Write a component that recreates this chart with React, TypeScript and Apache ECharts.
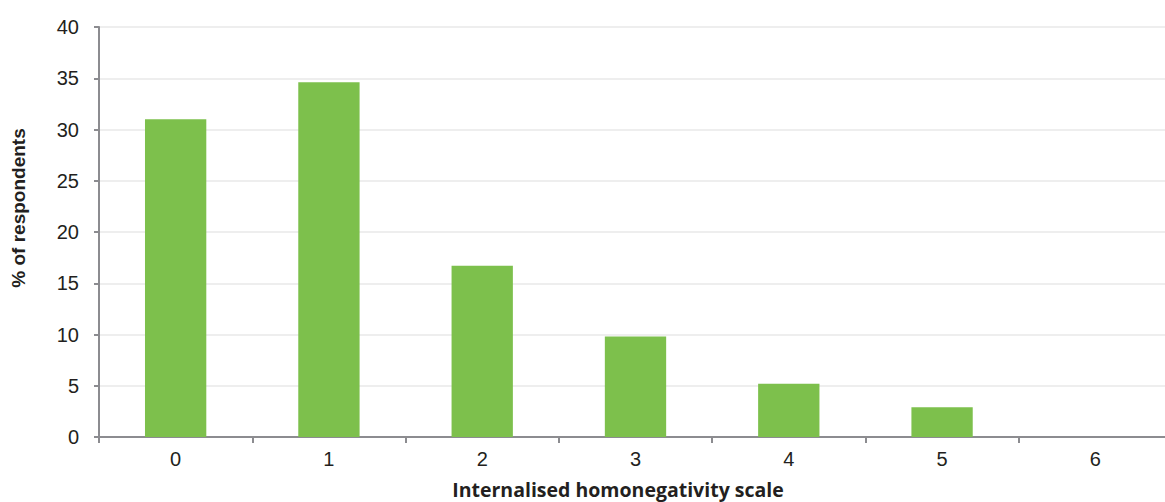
import React, { useEffect, useRef } from "react";
import * as echarts from "echarts";

const categories = ["0", "1", "2", "3", "4", "5", "6"];
const percentValues = [31.0, 34.6, 16.7, 9.8, 5.2, 2.9, 0];
const yTicks = { min: 0, max: 40, interval: 5 };
const xTitle = "Internalised homonegativity scale";
const yTitle = "% of respondents";

export default function App() {
  const ref = useRef<HTMLDivElement>(null);
  useEffect(() => {
    if (!ref.current) return;
    const chart = echarts.init(ref.current, null, { renderer: "svg" });
    chart.setOption({
      animation: false,
      backgroundColor: "#ffffff",
      grid: { left: 99, right: 0, top: 27, bottom: 65, containLabel: false },
      xAxis: {
        type: "category",
        data: categories,
        axisLine: { lineStyle: { color: "#8c8c90", width: 2 } },
        axisTick: { show: true, alignWithLabel: false, length: 6, lineStyle: { color: "#8c8c90", width: 2 } },
        axisLabel: { color: "#231f20", fontSize: 20, fontFamily: "Liberation Sans, Arial, sans-serif", margin: 12 },
        splitLine: { show: false },
      },
      yAxis: {
        type: "value",
        min: yTicks.min,
        max: yTicks.max,
        interval: yTicks.interval,
        axisLine: { show: true, lineStyle: { color: "#8c8c90", width: 2 } },
        axisTick: { show: true, length: 5, lineStyle: { color: "#8c8c90", width: 2 } },
        axisLabel: { color: "#231f20", fontSize: 20, fontFamily: "Liberation Sans, Arial, sans-serif", margin: 20 },
        splitLine: { show: true, lineStyle: { color: "#e8e8e8", width: 1.5 } },
      },
      series: [
        {
          type: "bar",
          data: percentValues,
          barWidth: "40%",
          itemStyle: { color: "#7dc04c" },
        },
      ],
      graphic: [
        {
          type: "text",
          x: 618,
          y: 489,
          style: {
            text: xTitle,
            fill: "#231f20",
            font: "bold 19.5px 'Open Sans', sans-serif",
            align: "center",
            verticalAlign: "middle",
          },
        },
        {
          type: "text",
          x: 18,
          y: 208,
          rotation: Math.PI / 2,
          style: {
            text: yTitle,
            fill: "#231f20",
            font: "bold 19px 'Liberation Sans', Arial, sans-serif",
            align: "center",
            verticalAlign: "middle",
          },
        },
      ],
    });
    return () => chart.dispose();
  }, []);
  return (
    <div style={{ position: "absolute", left: 0, top: 0, width: 1165, height: 502, overflow: "hidden" }}>
      <div ref={ref} style={{ width: 1172, height: 502 }} />
    </div>
  );
}
